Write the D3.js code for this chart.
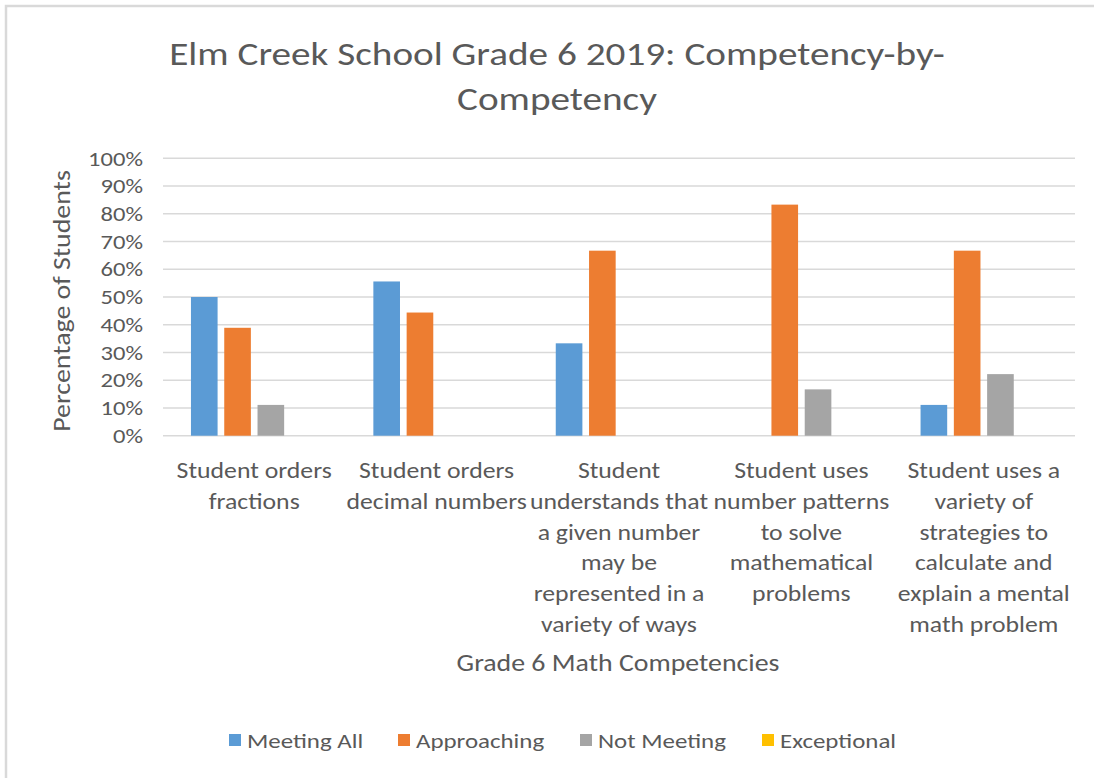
<!DOCTYPE html>
<html>
<head>
<meta charset="utf-8">
<script src="https://cdn.jsdelivr.net/npm/d3@7"></script>
<style>
  body { margin: 0; background: #fff; }
  text { font-family: Carlito, Lato, 'Open Sans', sans-serif; fill: #595959; }
</style>
</head>
<body>
<svg id="chart" width="1094" height="778"></svg>
<script>
// data
const categories = ['fractions', 'decimals', 'representation', 'patterns', 'mental math'];
const categoryLines = [
    ['Student orders', 'fractions'],
    ['Student orders', 'decimal numbers'],
    ['Student', 'understands that', 'a given number', 'may be', 'represented in a', 'variety of ways'],
    ['Student uses', 'number patterns', 'to solve', 'mathematical', 'problems'],
    ['Student uses a', 'variety of', 'strategies to', 'calculate and', 'explain a mental', 'math problem']
];
const seriesNames = ['Meeting All', 'Approaching', 'Not Meeting', 'Exceptional'];
const seriesColors = ['#5B9BD5', '#ED7D31', '#A5A5A5', '#FFC000'];
const meetingAll = [50.0, 55.6, 33.3, 0, 11.1];
const approaching = [38.9, 44.4, 66.7, 83.3, 66.7];
const notMeeting = [11.1, 0, 0, 16.7, 22.2];
const exceptional = [0, 0, 0, 0, 0];
const yTicks = [0, 10, 20, 30, 40, 50, 60, 70, 80, 90, 100];

const seriesValues = [meetingAll, approaching, notMeeting, exceptional];
const rows = categories.map((c, i) => ({
    cat: c,
    values: seriesNames.map((s, j) => ({ series: s, value: seriesValues[j][i], color: seriesColors[j] }))
}));

// the original text is a little wider than Lato, stretch it sideways
const stretch = 1.17;

const svg = d3.select('#chart');

// chart frame (top and left edge only, like the screenshot)
svg.append('path')
    .attr('d', 'M6,778 L6,6 L1094,6')
    .attr('fill', 'none')
    .attr('stroke', '#D9D9D9')
    .attr('stroke-width', 2.5);

const plot = { left: 163, right: 1075, top: 158.3, bottom: 435.7 };

const x0 = d3.scaleBand()
    .domain(categories)
    .range([plot.left, plot.right]);
const x1 = d3.scaleBand()
    .domain(seriesNames)
    .range([0, x0.bandwidth()])
    .paddingInner(0.2)
    .paddingOuter(0.84);
const y = d3.scaleLinear()
    .domain([0, 100])
    .range([plot.bottom, plot.top]);

// gridlines
svg.append('g')
    .selectAll('line')
    .data(yTicks)
    .join('line')
    .attr('x1', plot.left)
    .attr('x2', plot.right)
    .attr('y1', d => y(d))
    .attr('y2', d => y(d))
    .attr('stroke', '#D9D9D9')
    .attr('stroke-width', 1.5);

// y axis labels
const yAxis = svg.append('g')
    .attr('transform', `translate(${plot.left},0)`)
    .call(d3.axisLeft(y).tickValues(yTicks).tickSize(0).tickPadding(20).tickFormat(d => d + '%'));
yAxis.select('.domain').remove();
yAxis.attr('font-family', null).attr('font-size', null);
yAxis.selectAll('text')
    .attr('font-size', '21px')
    .attr('fill', '#595959');

// bars
const groups = svg.append('g')
    .selectAll('g')
    .data(rows)
    .join('g')
    .attr('transform', d => `translate(${x0(d.cat)},0)`);

groups.selectAll('rect')
    .data(d => d.values.filter(v => v.value > 0))
    .join('rect')
    .attr('x', d => x1(d.series))
    .attr('width', x1.bandwidth())
    .attr('y', d => y(d.value))
    .attr('height', d => y(0) - y(d.value))
    .attr('fill', d => d.color);

// category labels
const lineHeight = 30.8;
const catLabels = svg.append('g')
    .selectAll('text')
    .data(rows)
    .join('text')
    .attr('text-anchor', 'middle')
    .attr('font-size', '22px')
    .attr('x', d => x0(d.cat) + x0.bandwidth() / 2)
    .attr('y', 478);
catLabels.each(function (d, i) {
    d3.select(this).selectAll('tspan')
        .data(categoryLines[i])
        .join('tspan')
        .attr('x', x0(d.cat) + x0.bandwidth() / 2)
        .attr('dy', (l, k) => k === 0 ? 0 : lineHeight)
        .text(l => l);
});

// title
const title = svg.append('text')
    .attr('text-anchor', 'middle')
    .attr('font-size', '33.5px');
title.append('tspan').attr('x', 557).attr('y', 65).text('Elm Creek School Grade 6 2019: Competency-by-');
title.append('tspan').attr('x', 557).attr('y', 110).text('Competency');

// axis titles
svg.append('text')
    .attr('text-anchor', 'middle')
    .attr('font-size', '23.8px')
    .attr('x', 618)
    .attr('y', 671)
    .text('Grade 6 Math Competencies');

svg.append('text')
    .attr('text-anchor', 'middle')
    .attr('font-size', '23.8px')
    .attr('transform', 'translate(70,301) rotate(-90)')
    .text('Percentage of Students');

// legend
const legend = svg.append('g')
    .attr('transform', 'translate(0,740)');
const legendX = [229, 398, 580, 762];
seriesNames.forEach((name, i) => {
    const row = legend.append('g')
        .attr('transform', `translate(${legendX[i]},0)`);
    row.append('rect')
        .attr('x', 0)
        .attr('y', -6)
        .attr('width', 12)
        .attr('height', 12)
        .attr('fill', seriesColors[i]);
    row.append('text')
        .attr('x', 18)
        .attr('y', 8)
        .attr('font-size', '21.3px')
        .text(name);
});

// widen every text run
svg.selectAll('text').each(function () {
    const t = d3.select(this);
    const spans = t.selectAll('tspan');
    const targets = spans.empty() ? [this] : spans.nodes();
    targets.forEach(n => {
        const w = n.getComputedTextLength();
        d3.select(n).attr('textLength', w * stretch).attr('lengthAdjust', 'spacingAndGlyphs');
    });
});
</script>
</body>
</html>
